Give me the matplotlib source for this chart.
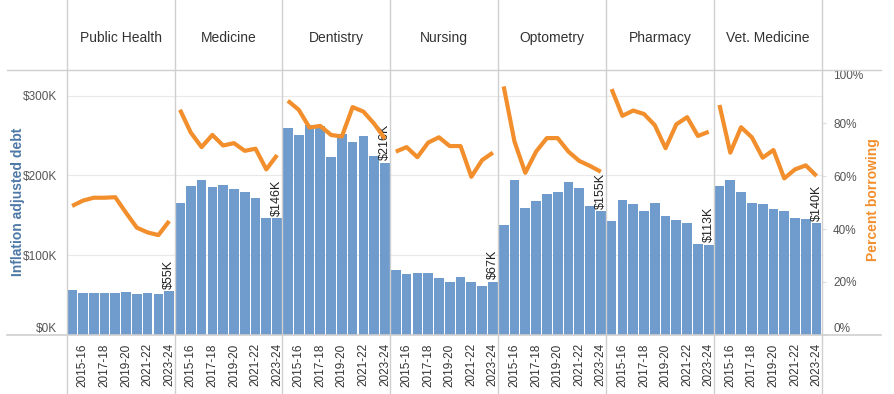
import matplotlib.pyplot as plt
from matplotlib.lines import Line2D

plt.rcParams['font.family'] = ['Liberation Sans', 'DejaVu Sans']

# Data (debt in $K, borrowing in %)
programs = ['Public Health', 'Medicine', 'Dentistry', 'Nursing',
            'Optometry', 'Pharmacy', 'Vet. Medicine']
years = ['2014-15', '2015-16', '2016-17', '2017-18', '2018-19',
         '2019-20', '2020-21', '2021-22', '2022-23', '2023-24']

debt_public_health = [56, 52, 53, 53, 52, 54, 51, 52, 51, 55]
debt_medicine = [165, 187, 194, 185, 188, 183, 179, 172, 147, 146]
debt_dentistry = [259, 251, 263, 262, 223, 252, 242, 249, 224, 216]
debt_nursing = [81, 77, 78, 78, 71, 67, 73, 67, 62, 67]
debt_optometry = [138, 194, 159, 168, 177, 179, 192, 184, 161, 155]
debt_pharmacy = [143, 169, 164, 155, 165, 149, 144, 140, 114, 113]
debt_vet = [187, 194, 179, 165, 164, 158, 155, 146, 145, 140]

pct_public_health = [48.7, 50.7, 51.8, 51.8, 52.0, 46.1, 40.5, 38.7, 37.7, 43.0]
pct_medicine = [85.0, 76.4, 70.9, 75.5, 71.5, 72.4, 69.5, 70.3, 62.5, 67.9]
pct_dentistry = [88.4, 85.0, 78.3, 78.9, 75.5, 74.9, 86.0, 84.3, 79.7, 74.0]
pct_nursing = [69.2, 70.9, 67.1, 72.6, 74.6, 71.3, 71.3, 59.7, 66.0, 68.8]
pct_optometry = [93.8, 73.0, 61.2, 69.2, 74.3, 74.3, 69.2, 65.7, 63.8, 61.6]
pct_pharmacy = [92.8, 82.7, 84.7, 83.4, 79.2, 70.5, 79.5, 82.2, 75.1, 76.7]
pct_vet = [86.8, 68.8, 78.4, 74.6, 66.9, 69.8, 59.1, 62.5, 64.0, 60.0]

debts = [debt_public_health, debt_medicine, debt_dentistry, debt_nursing,
         debt_optometry, debt_pharmacy, debt_vet]
pcts = [pct_public_health, pct_medicine, pct_dentistry, pct_nursing,
        pct_optometry, pct_pharmacy, pct_vet]

W, H = 895, 394
BLUE = '#6f9ccd'
ORANGE = '#f28e2b'
GRID = '#e9e9e9'
BORDER = '#cfcfcf'
TXT = '#555555'

fig = plt.figure(figsize=(W / 100, H / 100), dpi=100)


def fx(px):
    return px / W


def fy(py):
    return 1 - py / H


left, right, top, bottom = 66.7, 822.0, 70.0, 335.0
pw = (right - left) / len(programs)
x = list(range(len(years)))

for i, name in enumerate(programs):
    ax = fig.add_axes([fx(left + i * pw), fy(bottom), pw / W, (bottom - top) / H])
    ax.bar(x, debts[i], width=0.9, color=BLUE, zorder=2)
    for g in [100, 200, 300]:
        ax.axhline(g, color=GRID, lw=0.8, zorder=0)
    ax.set_xlim(-0.5, 9.5)
    ax.set_ylim(0, 332)
    ax.set_xticks(x[1::2])
    ax.set_xticklabels(years[1::2], rotation=90, fontsize=8.5, color='#333333')
    ax.tick_params(axis='x', length=0, pad=6)
    for s in ax.spines.values():
        s.set_visible(False)

    last = debts[i][-1]
    ax.text(9, last + 3, f'${last}K', rotation=90, ha='center', va='bottom',
            fontsize=9, color='#222222', zorder=5)

    if i == 0:
        ax.set_yticks([0, 100, 200, 300])
        labels = ax.set_yticklabels(['$0K', '$100K', '$200K', '$300K'],
                                    fontsize=8.5, color=TXT)
        labels[0].set_va('bottom')
        ax.tick_params(axis='y', length=0, pad=7)
    else:
        ax.set_yticks([])

    ax2 = ax.twinx()
    ax2.plot(x, pcts[i], color=ORANGE, lw=3, solid_joinstyle='round',
             solid_capstyle='butt', zorder=3)
    ax2.set_ylim(0, 100)
    for s in ax2.spines.values():
        s.set_visible(False)
    if i == len(programs) - 1:
        ax2.set_yticks([0, 20, 40, 60, 80, 100])
        rl = ax2.set_yticklabels(['0%', '20%', '40%', '60%', '80%', '100%'],
                                 fontsize=8.5, color=TXT)
        rl[0].set_va('bottom')
        rl[-1].set_va('top')
        ax2.tick_params(axis='y', length=3, color='#dddddd', pad=5)
    else:
        ax2.set_yticks([])

    fig.text(fx(left + (i + 0.5) * pw), fy(38), name, ha='center', va='center',
             fontsize=10, color='#333333')

# frame lines (header / axis borders)
for py in [top, bottom]:
    fig.add_artist(Line2D([fx(7), fx(881)], [fy(py), fy(py)],
                          color=BORDER, lw=1.2 if py == bottom else 1))
for k in range(len(programs) + 1):
    px = left + k * pw
    fig.add_artist(Line2D([fx(px), fx(px)], [0, 1], color=BORDER, lw=1))

fig.text(fx(18), fy(202), 'Inflation adjusted debt', rotation=90, ha='center',
         va='center', fontsize=10, fontweight='bold', color='#4e79a7')
fig.text(fx(873), fy(200), 'Percent borrowing', rotation=90, ha='center',
         va='center', fontsize=10, fontweight='bold', color=ORANGE)

fig.savefig('out.png', dpi=100)
